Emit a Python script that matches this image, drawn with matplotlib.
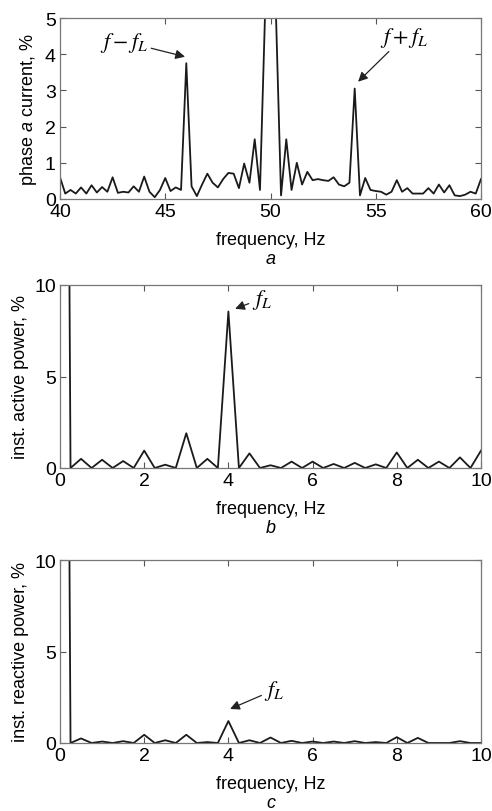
import matplotlib
matplotlib.use("Agg")
import matplotlib.pyplot as plt
import numpy as np

plt.rcParams['font.family'] = ['Liberation Sans', 'DejaVu Sans']
plt.rcParams['mathtext.fontset'] = 'custom'
plt.rcParams['mathtext.rm'] = 'Liberation Sans'
plt.rcParams['mathtext.it'] = 'Liberation Sans:italic'

# panel a: phase a current spectrum, 0.25 Hz bins from 40 to 60 Hz
freq_a = np.arange(40, 60.001, 0.25)
current_a = [0.6, 0.15, 0.25, 0.15, 0.32, 0.15, 0.38, 0.18, 0.33, 0.2,
             0.6, 0.17, 0.2, 0.18, 0.35, 0.2, 0.62, 0.2, 0.05, 0.25,
             0.58, 0.22, 0.32, 0.25, 3.75, 0.35, 0.08, 0.4, 0.7, 0.45,
             0.32, 0.55, 0.72, 0.7, 0.3, 0.98, 0.45, 1.65, 0.25, 5.3,
             100.0, 5.3, 0.1, 1.65, 0.25, 1.0, 0.4, 0.75, 0.52, 0.55,
             0.52, 0.5, 0.6, 0.4, 0.35, 0.45, 3.05, 0.1, 0.58, 0.25,
             0.22, 0.2, 0.12, 0.2, 0.52, 0.2, 0.3, 0.15, 0.15, 0.15,
             0.3, 0.15, 0.4, 0.18, 0.38, 0.1, 0.08, 0.12, 0.2, 0.15, 0.55]

# panels b, c: instantaneous power spectra, 0.25 Hz bins from 0 to 10 Hz
freq_pq = np.arange(0, 10.001, 0.25)
active_p = [100.0, 0, 0.5, 0, 0.45, 0, 0.38, 0, 0.95, 0,
            0.18, 0, 1.9, 0, 0.5, 0, 8.55, 0, 0.8, 0,
            0.15, 0, 0.35, 0, 0.35, 0, 0.22, 0, 0.28, 0,
            0.2, 0, 0.85, 0, 0.45, 0, 0.35, 0, 0.58, 0, 0.95]
reactive_q = [100.0, 0, 0.25, 0, 0.08, 0, 0.1, 0, 0.45, 0,
              0.15, 0, 0.45, 0, 0.05, 0, 1.2, 0, 0.15, 0,
              0.3, 0, 0.12, 0, 0.08, 0, 0.08, 0, 0.1, 0,
              0.05, 0, 0.32, 0, 0.28, 0, 0, 0, 0.1, 0, 0]

W, H = 492, 812
fig = plt.figure(figsize=(W / 100, H / 100), dpi=100)

def make_ax(top, bottom):
    ax = fig.add_axes([60 / W, (H - bottom) / H, 421 / W, (bottom - top) / H])
    ax.tick_params(direction='in', top=True, right=True, labelsize=14,
                   length=4, width=0.8, color='#555555', pad=3)
    for s in ax.spines.values():
        s.set_color('#777777')
        s.set_linewidth(0.9)
    return ax

line_kw = dict(color='#1a1a1a', linewidth=1.3)
arrow_kw = dict(arrowstyle='-|>', color='#222222', lw=0.9,
                mutation_scale=14, shrinkA=0, shrinkB=0)
lab_fs = 13
ann_fs = 16
letter_y = -0.28

# a
ax = make_ax(19, 200)
ax.plot(freq_a, current_a, **line_kw)
ax.set_xlim(40, 60)
ax.set_ylim(0, 5)
ax.set_xticks([40, 45, 50, 55, 60])
ax.set_yticks([0, 1, 2, 3, 4, 5])
ax.set_ylabel('phase $\\mathit{a}$ current, %', fontsize=lab_fs, labelpad=4)
ax.set_xlabel('frequency, Hz', fontsize=lab_fs, labelpad=8)
ax.text(0.5, letter_y, 'a', transform=ax.transAxes, ha='center', va='top',
        fontsize=lab_fs, style='italic')
ax.annotate('$f-f_L$', xy=(45.94, 3.93), xytext=(44.2, 4.35),
            fontsize=ann_fs, ha='right', va='center', arrowprops=arrow_kw,
            math_fontfamily='stix')
ax.annotate('$f+f_L$', xy=(54.16, 3.24), xytext=(55.2, 4.15),
            fontsize=ann_fs, ha='left', va='bottom', arrowprops=arrow_kw,
            math_fontfamily='stix')

# b
ax = make_ax(286, 469)
ax.plot(freq_pq, active_p, **line_kw)
ax.set_xlim(0, 10)
ax.set_ylim(0, 10)
ax.set_xticks([0, 2, 4, 6, 8, 10])
ax.set_yticks([0, 5, 10])
ax.set_ylabel('inst. active power, %', fontsize=lab_fs, labelpad=4)
ax.set_xlabel('frequency, Hz', fontsize=lab_fs, labelpad=8)
ax.text(0.5, letter_y, 'b', transform=ax.transAxes, ha='center', va='top',
        fontsize=lab_fs, style='italic')
ax.annotate('$f_L$', xy=(4.16, 8.7), xytext=(4.55, 9.25),
            fontsize=ann_fs, ha='left', va='center', arrowprops=arrow_kw,
            math_fontfamily='stix')

# c
ax = make_ax(561, 744)
ax.plot(freq_pq, reactive_q, **line_kw)
ax.set_xlim(0, 10)
ax.set_ylim(0, 10)
ax.set_xticks([0, 2, 4, 6, 8, 10])
ax.set_yticks([0, 5, 10])
ax.set_ylabel('inst. reactive power, %', fontsize=lab_fs, labelpad=4)
ax.set_xlabel('frequency, Hz', fontsize=lab_fs, labelpad=8)
ax.text(0.5, letter_y, 'c', transform=ax.transAxes, ha='center', va='top',
        fontsize=lab_fs, style='italic')
ax.annotate('$f_L$', xy=(4.04, 1.86), xytext=(4.85, 2.9),
            fontsize=ann_fs, ha='left', va='center', arrowprops=arrow_kw,
            math_fontfamily='stix')

fig.savefig('out.png', dpi=100)
